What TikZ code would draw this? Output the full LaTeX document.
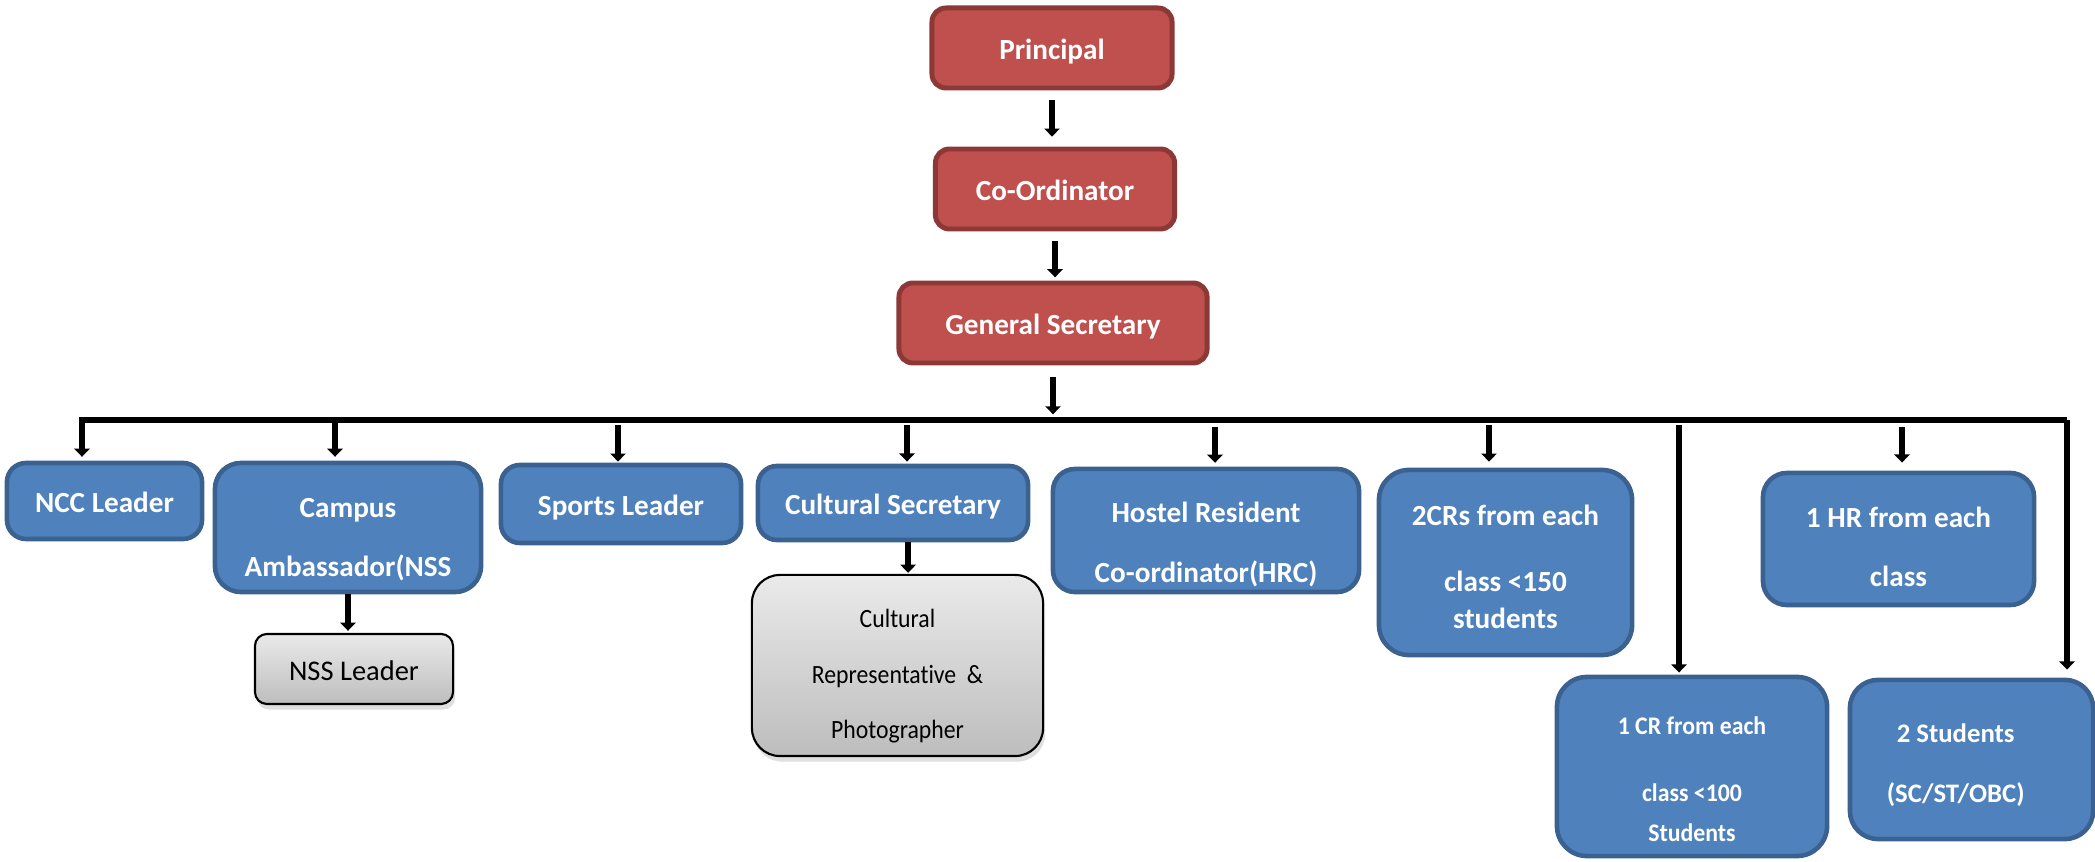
\documentclass[tikz,border=0pt]{standalone}
\usepackage{fontspec}
\setmainfont{Carlito}
\newfontfamily\condA[FakeStretch=0.9,Ligatures=NoCommon]{Carlito}
\newfontfamily\condB[FakeStretch=0.94]{Carlito}
\usetikzlibrary{arrows.meta,shadows,calc}
\definecolor{bfill}{HTML}{4F81BD}
\definecolor{bline}{HTML}{3A6190}
\definecolor{rfill}{HTML}{C0504D}
\definecolor{rline}{HTML}{8C3836}
\definecolor{gtop}{HTML}{EAEAEA}
\definecolor{gbot}{HTML}{BDBDBD}
\newcommand\dnshift[2]{\raisebox{-#1}[\height][\depth]{\begin{tabular}{@{}c@{}}#2\end{tabular}}}
\tikzset{
  redbox/.style={draw=rline, fill=rfill, line width=1.4pt, rounded corners=0.14cm, text=white,
    font=\fontsize{8.3}{10}\selectfont\bfseries, inner sep=0pt},
  bluebox/.style={draw=bline, fill=bfill, line width=1.3pt, rounded corners=0.19cm, text=white,
    font=\fontsize{8.3}{10}\selectfont\bfseries, inner sep=0pt},
  graybox/.style={draw=black, line width=0.6pt, top color=gtop, bottom color=gbot, text=black,
    inner sep=0pt, drop shadow={shadow xshift=0.6pt, shadow yshift=-1.6pt, opacity=0.25}},
  oneline/.style={text height=7.6pt, text depth=1.2pt},
  arr/.style={line width=1.7pt, -{Triangle[length=2.3pt,width=4.3pt]}},
}
\begin{document}
\begin{tikzpicture}[x=0.01cm, y=-0.01cm]
\useasboundingbox (0,0) rectangle (2095,862);
% top chain
\node[redbox, oneline, minimum width=2.40cm, minimum height=0.80cm] (prin) at (1052,48) {Principal};
\node[redbox, oneline, minimum width=2.39cm, minimum height=0.80cm] (coord) at (1055,189) {Co-Ordinator};
\node[redbox, oneline, minimum width=3.08cm, minimum height=0.80cm] (gs) at (1053,323) {General Secretary};
% second level
\node[bluebox, oneline, minimum width=1.95cm, minimum height=0.76cm] (ncc) at (104.5,501) {NCC Leader};
\node[bluebox, rounded corners=0.26cm, minimum width=2.66cm, minimum height=1.29cm] (camp) at (348,527.5)
  {\dnshift{3.5pt}{Campus\\[6.9pt] Ambassador(NSS}};
\node[graybox, oneline, rounded corners=0.12cm, minimum width=1.98cm, minimum height=0.70cm,
  font=\fontsize{8.1}{9.7}\selectfont] (nss) at (354,669) {NSS Leader};
\node[bluebox, oneline, minimum width=2.40cm, minimum height=0.78cm] (sport) at (621,504) {Sports Leader};
\node[bluebox, oneline, minimum width=2.70cm, minimum height=0.74cm] (csec) at (893,503) {Cultural Secretary};
\node[graybox, rounded corners=0.28cm, minimum width=2.91cm, minimum height=1.81cm,
  font=\condA\fontsize{7.5}{9}\selectfont] (rep) at (897.5,665.5)
  {\dnshift{3.2pt}{Cultural\\[6.9pt] Representative\ \ \&\\[6.9pt] Photographer}};
\node[bluebox, rounded corners=0.22cm, minimum width=3.06cm, minimum height=1.23cm] (hostel) at (1206,530.5)
  {\dnshift{4.2pt}{Hostel Resident\\[6.9pt] Co-ordinator(HRC)}};
\node[bluebox, rounded corners=0.3cm, minimum width=2.53cm, minimum height=1.85cm] (twocr) at (1505.5,562.5)
  {\dnshift{2.2pt}{2CRs from each\\[8.7pt] class <150\\[0.5pt] students}};
\node[bluebox, rounded corners=0.3cm, minimum width=2.70cm, minimum height=1.79cm,
  font=\condB\fontsize{7.2}{8.6}\selectfont\bfseries] (cr100) at (1692,766.5)
  {\dnshift{4.4pt}{1 CR from each\\[10.5pt] class <100\\[3pt] Students}};
\node[bluebox, rounded corners=0.24cm, minimum width=2.71cm, minimum height=1.32cm] (hr) at (1898.5,539)
  {\dnshift{3.1pt}{1 HR from each\\[6.9pt] class}};
\node[bluebox, rounded corners=0.28cm, minimum width=2.43cm, minimum height=1.59cm,
  font=\fontsize{7.6}{9.1}\selectfont\bfseries] (stud) at (1971.5,759.5)
  {\raisebox{-1.8pt}[\height][\depth]{\begin{tabular}{@{}c@{}}2 Students\\[8pt] (SC/ST/OBC)\end{tabular}\hspace*{9pt}}};
% bus coordinates
\coordinate (busL) at (82,420);
\coordinate (busR) at (2067,420);
\coordinate (cCamp) at (335,420);
\coordinate (cSport) at (618,425);
\coordinate (cCsec) at (907,425);
\coordinate (cHost) at (1215,427);
\coordinate (cTwo) at (1489,425);
\coordinate (cCr) at (1679,425);
\coordinate (cHr) at (1902,427);
% connectors
\draw[arr, shorten <=2.8pt, shorten >=2.8pt] (prin.south) -- (prin.south |- coord.north);
\draw[arr, shorten <=2.8pt, shorten >=0.9pt] (coord.south) -- (coord.south |- gs.north);
\draw[arr, shorten <=3.4pt, shorten >=1.6pt] (gs.south) -- (gs.south |- busL);
\draw[arr, shorten >=1.1pt] (busR) -- (busL) -- (busL |- ncc.north);
\draw[arr, shorten >=2.3pt] (busR) -- (busR |- stud.north);
\draw[arr, shorten >=1.1pt] (cCamp) -- (cCamp |- camp.north);
\draw[arr, shorten >=0.3pt] (cSport) -- (cSport |- sport.north);
\draw[arr, shorten >=0.6pt] (cCsec) -- (cCsec |- csec.north);
\draw[arr, shorten >=1.1pt] (cHost) -- (cHost |- hostel.north);
\draw[arr, shorten >=1.7pt] (cTwo) -- (cTwo |- twocr.north);
\draw[arr, shorten >=0.6pt] (cCr) -- (cCr |- cr100.north);
\draw[arr, shorten >=2.3pt] (cHr) -- (cHr |- hr.north);
\draw[arr, shorten >=0.6pt] (camp.south) -- (camp.south |- nss.north);
\draw[arr, shorten >=0.3pt] ([xshift=4.3pt]csec.south) -- ([xshift=4.3pt]csec.south |- rep.north);
\end{tikzpicture}
\end{document}
